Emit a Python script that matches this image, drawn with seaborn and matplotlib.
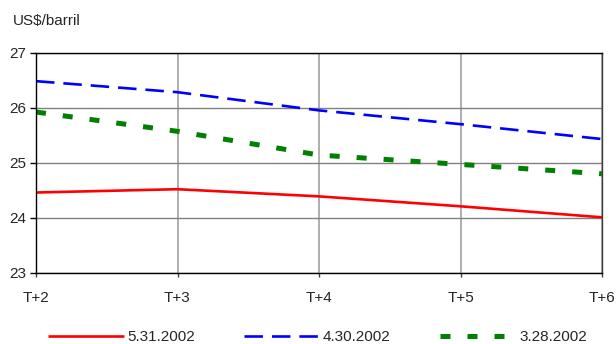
import numpy as np
import pandas as pd
import matplotlib
matplotlib.use("Agg")
import matplotlib.pyplot as plt
import seaborn as sns
from matplotlib.lines import Line2D

# Forward curve of crude prices by contract horizon, for three quote dates
horizons = ["T+2", "T+3", "T+4", "T+5", "T+6"]
curve_may = [24.46, 24.52, 24.39, 24.21, 24.01]
curve_apr = [26.48, 26.28, 25.95, 25.70, 25.43]
curve_mar = [25.92, 25.57, 25.14, 24.97, 24.80]
series_labels = ["5.31.2002", "4.30.2002", "3.28.2002"]
y_ticks = [23, 24, 25, 26, 27]
unit_label = "US$/barril"

sns.set_theme(style="white")
plt.rcParams["font.family"] = ["Liberation Sans", "DejaVu Sans"]
plt.rcParams["font.size"] = 11

n = len(horizons)
df = pd.DataFrame({
    "pos": np.tile(np.arange(n), 3),
    "price": curve_may + curve_apr + curve_mar,
    "curve": np.repeat(series_labels, n),
})

line_styles = {
    "5.31.2002": dict(color="#ff0000", linewidth=1.9, linestyle="-"),
    "4.30.2002": dict(color="#0000ff", linewidth=1.9, linestyle=(0, (7.0, 3.4))),
    "3.28.2002": dict(color="#008000", linewidth=3.6, linestyle=(0, (2.0, 3.4))),
}

fig = plt.figure(figsize=(6.16, 3.44), dpi=100)
ax = fig.add_axes([36 / 616, 1 - 273 / 344, (602 - 36) / 616, (273 - 52.5) / 344])

for label in series_labels:
    sub = df[df["curve"] == label]
    sns.lineplot(data=sub, x="pos", y="price", ax=ax, legend=False,
                 solid_capstyle="butt", dash_capstyle="butt",
                 zorder=3, **line_styles[label])

ax.set_xlim(0, n - 1)
ax.set_ylim(y_ticks[0], y_ticks[-1])
ax.set_xticks(np.arange(n))
ax.set_xticklabels(horizons)
ax.set_yticks(y_ticks)
ax.set_xlabel("")
ax.set_ylabel("")

ax.grid(axis="y", color="#808080", linewidth=1.0, zorder=1)
ax.grid(axis="x", color="#a8a8a8", linewidth=1.3, zorder=1)
for side in ["left", "bottom", "top", "right"]:
    ax.spines[side].set_visible(True)
    ax.spines[side].set_color("black")
    ax.spines[side].set_linewidth(1.0)
    ax.spines[side].set_zorder(4)
ax.spines["right"].set_color("#404040")

ax.tick_params(axis="y", direction="out", length=4, width=1, color="black",
               pad=3, labelsize=11, left=True)
ax.tick_params(axis="x", direction="out", length=3, width=1, color="#404040",
               pad=10, labelsize=11, bottom=True)

fig.text(13 / 616, 1 - 21 / 344, unit_label, fontsize=11, va="center", ha="left")

handles = [Line2D([0], [0], solid_capstyle="butt", dash_capstyle="butt",
                  **line_styles[label]) for label in series_labels]
fig.legend(handles, series_labels, ncol=3, loc="center",
           bbox_to_anchor=(0.515, 1 - 337 / 344), frameon=False,
           handlelength=5.0, handletextpad=0.2, columnspacing=3.2,
           fontsize=11, borderpad=0, borderaxespad=0)

fig.savefig("out.png", dpi=100)
